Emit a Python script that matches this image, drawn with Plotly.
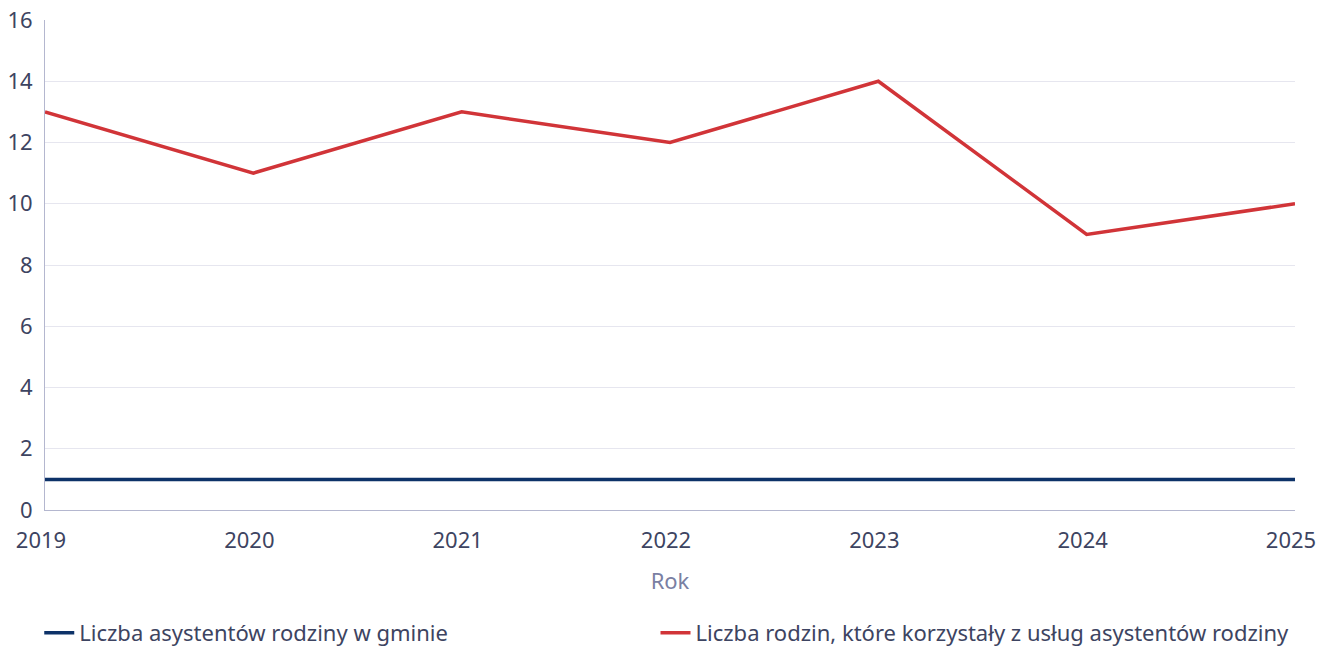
import plotly.graph_objects as go

years = [2019, 2020, 2021, 2022, 2023, 2024, 2025]
asystenci = [1, 1, 1, 1, 1, 1, 1]
rodziny = [13, 11, 13, 12, 14, 9, 10]
y_ticks = [0, 2, 4, 6, 8, 10, 12, 14, 16]

TEXT = "#3d4461"
FONT = "Noto Sans"

fig = go.Figure()
fig.add_trace(go.Scatter(x=years, y=asystenci, mode="lines",
                         name="Liczba asystentów rodziny w gminie",
                         line=dict(color="#0d3268", width=3.5), legend="legend"))
fig.add_trace(go.Scatter(x=years, y=rodziny, mode="lines",
                         name="Liczba rodzin, które korzystały z usług asystentów rodziny",
                         line=dict(color="#d13438", width=3.5), legend="legend2"))

legend_common = dict(orientation="h", yanchor="middle", y=-0.251,
                     font=dict(family=FONT, size=22, color=TEXT),
                     itemwidth=30, bgcolor="rgba(0,0,0,0)")

fig.update_layout(
    width=1321, height=647,
    margin=dict(l=45, r=26, t=20, b=137, autoexpand=False),
    plot_bgcolor="white", paper_bgcolor="white",
    font=dict(family=FONT, size=22, color=TEXT),
    showlegend=True,
    legend=dict(x=-0.0046, xanchor="left", **legend_common),
    legend2=dict(x=0.4884, xanchor="left", **legend_common),
    xaxis=dict(range=[2019, 2025], tickvals=years, ticktext=[str(y) for y in years],
               showgrid=False, showline=True, linecolor="#b4b7cf", linewidth=1,
               ticks="outside", ticklen=11, tickcolor="rgba(0,0,0,0)",
               ticklabelshift=-4, ticklabeloverflow="allow",
               title=dict(text="Rok", font=dict(family=FONT, size=22, color="#7a7fa3"), standoff=20),
               zeroline=False, automargin=False),
    yaxis=dict(range=[0, 16], tickvals=y_ticks, showgrid=True, gridcolor="#e6e6ef",
               showline=True, linecolor="#b4b7cf", linewidth=1,
               ticks="outside", ticklen=7, tickcolor="rgba(0,0,0,0)",
               ticklabeloverflow="allow",
               zeroline=False, automargin=False),
)

fig.write_html("out.html", config={"displayModeBar": False},
               post_script="document.body.style.margin='0';document.body.style.overflow='hidden';")
